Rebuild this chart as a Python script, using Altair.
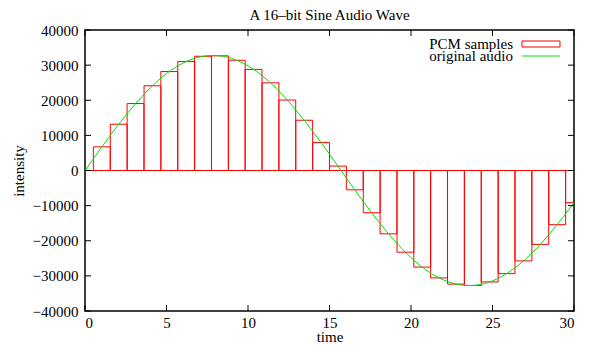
import altair as alt
import pandas as pd

# PCM sample times and values
sample_t = [0.0, 1.03, 2.07, 3.10, 4.14, 5.17, 6.21, 7.24, 8.28, 9.31,
            10.34, 11.38, 12.41, 13.45, 14.48, 15.52, 16.55, 17.59, 18.62, 19.66,
            20.69, 21.72, 22.76, 23.79, 24.83, 25.86, 26.90, 27.93, 28.97, 30.0]
sample_v = [0, 6731, 13175, 19057, 24126, 28166, 31005, 32521, 32650, 31387,
            28785, 24955, 20060, 14310, 7949, 1250, -5503, -12021, -18027, -23263,
            -27507, -30579, -32345, -32732, -31723, -29361, -25746, -21033, -15423, -9156]
box_width = 1.0345

# original audio curve
curve_t = list(range(0, 31))
curve_v = [0, 6510, 12760, 18502, 23506, 27573, 30540, 32290, 32753, 31910,
           29795, 26492, 22133, 16891, 10976, 4624, -1913, -8373, -14500, -20049,
           -24798, -28559, -31181, -32560, -32641, -31421, -28948, -25321, -20685, -15224,
           -9156]

x_ticks = [0, 5, 10, 15, 20, 25, 30]
y_ticks = [-40000, -30000, -20000, -10000, 0, 10000, 20000, 30000, 40000]
legend_names = ["PCM samples", "original audio"]

W, H = 489, 281
FONT = "Liberation Serif"
FS = 15

samples = pd.DataFrame({"t": sample_t, "v": sample_v})
samples["start"] = samples["t"] - box_width / 2
samples["end"] = samples["t"] + box_width / 2
curve = pd.DataFrame({"t": curve_t, "v": curve_v})
xt = pd.DataFrame({"t": x_ticks})
yt = pd.DataFrame({"v": y_ticks})
one = pd.DataFrame({"k": [0]})

xscale = alt.Scale(domain=[0, 30], nice=False, zero=False)
yscale = alt.Scale(domain=[-40000, 40000], nice=False)
x_axis = alt.Axis(values=x_ticks, title="time", tickSize=0, domain=False, grid=False,
                  labelPadding=4, titleBaseline="alphabetic", titleY=30, format="d")
y_axis = alt.Axis(values=y_ticks, title="intensity", tickSize=0, domain=False, grid=False,
                  labelPadding=7, titlePadding=6, format="d")


def X(field):
    return alt.X(field, scale=xscale, axis=x_axis, title="time")


def Y(field):
    return alt.Y(field, scale=yscale, axis=y_axis, title="intensity")


bars = alt.Chart(samples).mark_rect(
    fill="transparent", stroke="#ff0000", strokeWidth=1, clip=True
).encode(
    x=X("start:Q"),
    x2="end:Q",
    y=Y("v:Q"),
    y2=alt.datum(0),
)

line = alt.Chart(curve).mark_line(
    color="#00e000", strokeWidth=1, interpolate="natural", clip=True
).encode(x=X("t:Q"), y=Y("v:Q"))

tick_len = 6
xt_bottom = alt.Chart(xt).mark_rule(color="black", strokeWidth=1).encode(
    x=X("t:Q"), y=alt.value(H), y2=alt.value(H - tick_len))
xt_top = alt.Chart(xt).mark_rule(color="black", strokeWidth=1).encode(
    x=X("t:Q"), y=alt.value(0), y2=alt.value(tick_len))
yt_left = alt.Chart(yt).mark_rule(color="black", strokeWidth=1).encode(
    y=Y("v:Q"), x=alt.value(0), x2=alt.value(tick_len))
yt_right = alt.Chart(yt).mark_rule(color="black", strokeWidth=1).encode(
    y=Y("v:Q"), x=alt.value(W), x2=alt.value(W - tick_len))

leg_text1 = alt.Chart(one).mark_text(
    text=legend_names[0], align="right", baseline="middle", font=FONT, fontSize=FS, color="black"
).encode(x=alt.value(428), y=alt.value(14))
leg_text2 = alt.Chart(one).mark_text(
    text=legend_names[1], align="right", baseline="middle", font=FONT, fontSize=FS, color="black"
).encode(x=alt.value(428), y=alt.value(26))
leg_box = alt.Chart(one).mark_rect(
    fill="transparent", stroke="#ff0000", strokeWidth=1
).encode(x=alt.value(437), x2=alt.value(475), y=alt.value(11), y2=alt.value(17))
leg_line = alt.Chart(one).mark_rule(color="#00e000", strokeWidth=1).encode(
    x=alt.value(437), x2=alt.value(475), y=alt.value(26))

chart = alt.layer(
    bars, line, xt_bottom, xt_top, yt_left, yt_right, leg_text1, leg_text2, leg_box, leg_line
).properties(
    width=W, height=H,
    title=alt.TitleParams("A 16\u2013bit Sine Audio Wave", font=FONT, fontSize=FS,
                          fontWeight="normal", color="black", anchor="middle", offset=0),
    autosize=alt.AutoSizeParams(type="none"),
    padding={"left": 77, "top": 22, "right": 10, "bottom": 33},
    background="white",
).configure_view(
    stroke="black", strokeWidth=1.5
).configure_axis(
    labelFont=FONT, labelFontSize=FS, labelColor="black",
    titleFont=FONT, titleFontSize=FS, titleFontWeight="normal", titleColor="black",
)

chart.save("out.html", embed_options={"renderer": "svg", "actions": False})
